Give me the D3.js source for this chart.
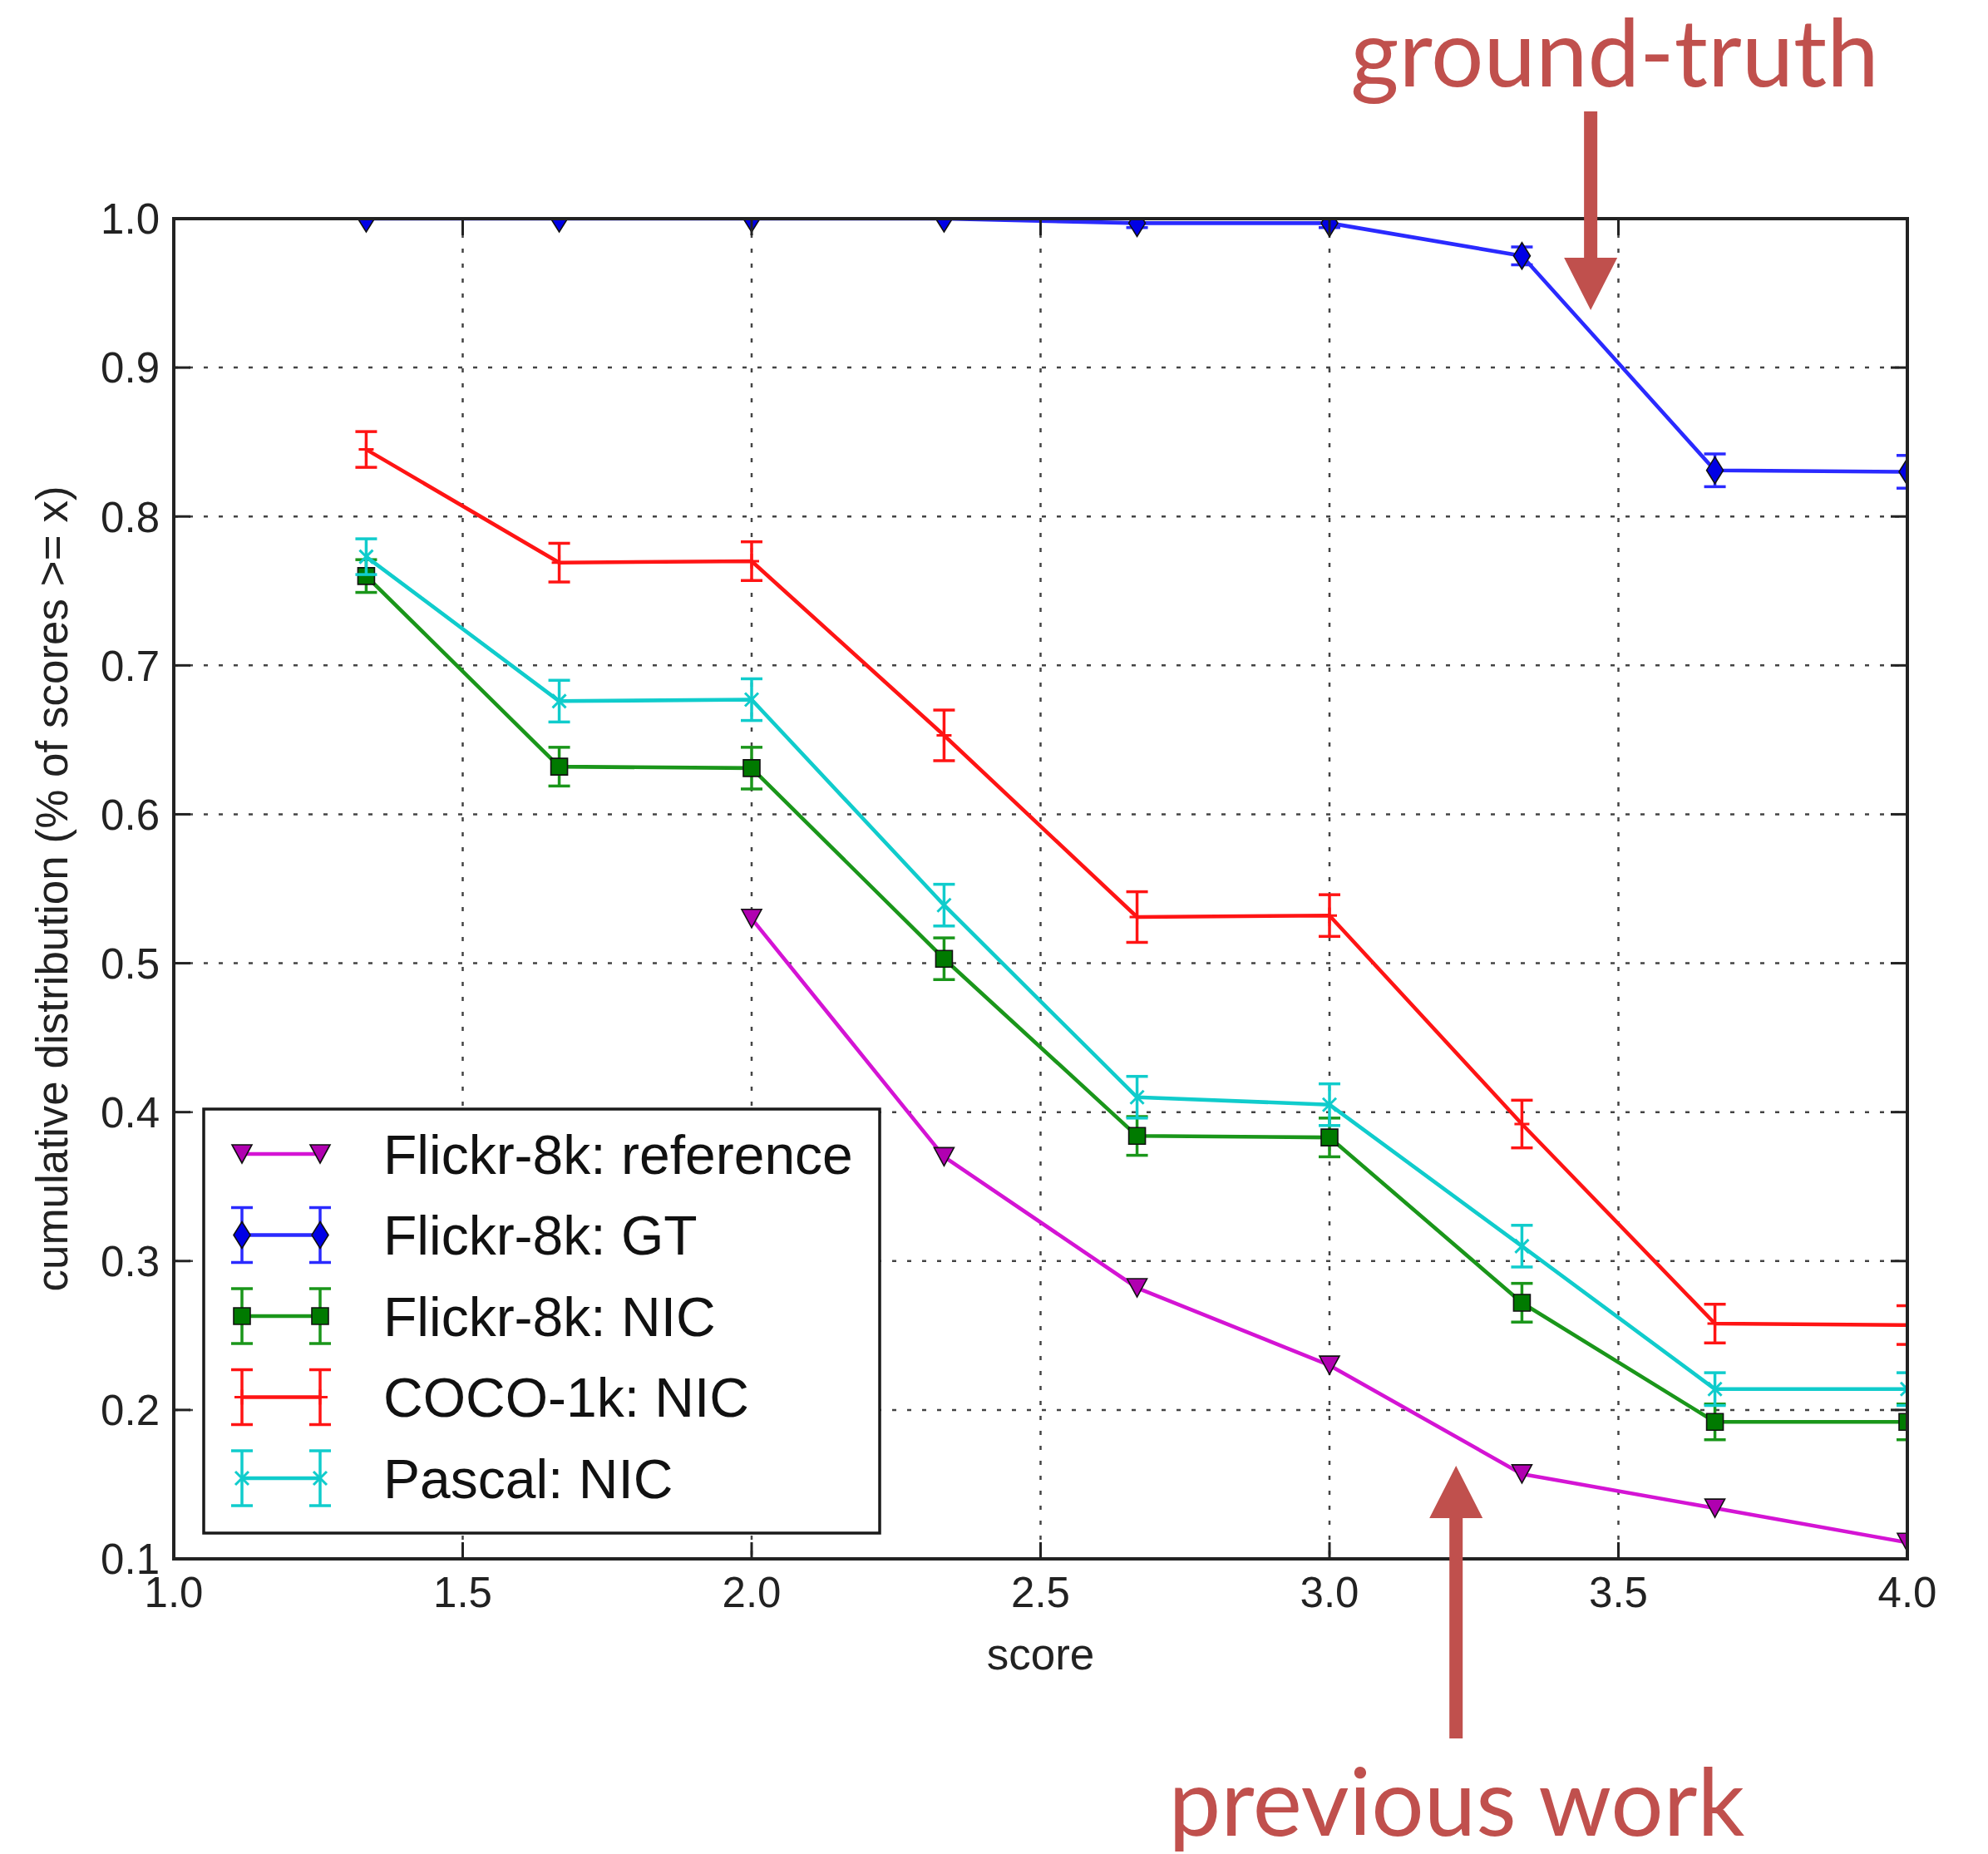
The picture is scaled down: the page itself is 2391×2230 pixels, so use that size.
<!DOCTYPE html>
<html>
<head>
<meta charset="utf-8">
<script src="https://cdn.jsdelivr.net/npm/d3@7"></script>
<style>
  body { margin: 0; background: #fff; }
</style>
</head>
<body>
<div id="chart"></div>
<script>
// x positions (scores) of the measured points
const scores = [1.333, 1.667, 2.0, 2.333, 2.667, 3.0, 3.333, 3.667, 4.0];
const refScores = [2.0, 2.333, 2.667, 3.0, 3.333, 3.667, 4.0];

// series values
const flickrReference = [0.530, 0.370, 0.282, 0.230, 0.157, 0.134, 0.111];
const flickrGT = [1.0, 1.0, 1.0, 1.0, 0.997, 0.997, 0.975, 0.831, 0.830];
const flickrGTErr = [0, 0, 0, 0, 0.003, 0.003, 0.006, 0.011, 0.011];
const flickrNIC = [0.760, 0.632, 0.631, 0.503, 0.384, 0.383, 0.272, 0.192, 0.192];
const flickrNICErr = [0.011, 0.013, 0.014, 0.014, 0.013, 0.013, 0.013, 0.012, 0.012];
const cocoNIC = [0.845, 0.769, 0.770, 0.653, 0.531, 0.532, 0.392, 0.258, 0.257];
const cocoNICErr = [0.012, 0.013, 0.013, 0.017, 0.017, 0.014, 0.016, 0.013, 0.013];
const pascalNIC = [0.773, 0.676, 0.677, 0.539, 0.410, 0.405, 0.310, 0.214, 0.214];
const pascalNICErr = [0.012, 0.014, 0.014, 0.014, 0.014, 0.014, 0.014, 0.011, 0.011];

const seriesNames = ['Flickr-8k: reference', 'Flickr-8k: GT', 'Flickr-8k: NIC', 'COCO-1k: NIC', 'Pascal: NIC'];
const xTicks = [1.0, 1.5, 2.0, 2.5, 3.0, 3.5, 4.0];
const yTicks = [0.1, 0.2, 0.3, 0.4, 0.5, 0.6, 0.7, 0.8, 0.9, 1.0];

const width = 2391;
const height = 2230;
const plot = { left: 209, right: 2294, top: 263, bottom: 1875 };
const chartFont = '"Liberation Sans", Arial, Helvetica, sans-serif';
const noteColor = '#c0504d';

// styling per series (same order as seriesNames)
const styles = [
    { line: '#d414d4', fill: '#b000b0', marker: 'triDown' },
    { line: '#2a2aff', fill: '#0000e6', marker: 'thinDiamond' },
    { line: '#1a961a', fill: '#007a00', marker: 'square' },
    { line: '#ff1414', fill: '#ff0000', marker: 'plus' },
    { line: '#10cccc', fill: '#00c4c4', marker: 'cross' }
];

const series = [
    { xs: refScores, ys: flickrReference, err: null },
    { xs: scores, ys: flickrGT, err: flickrGTErr },
    { xs: scores, ys: flickrNIC, err: flickrNICErr },
    { xs: scores, ys: cocoNIC, err: cocoNICErr },
    { xs: scores, ys: pascalNIC, err: pascalNICErr }
].map((s, i) => Object.assign(s, { name: seriesNames[i] }, styles[i]));

const x = d3.scaleLinear().domain([1.0, 4.0]).range([plot.left, plot.right]);
const y = d3.scaleLinear().domain([0.1, 1.0]).range([plot.bottom, plot.top]);

const svg = d3.select('#chart')
    .append('svg')
    .attr('width', width)
    .attr('height', height)
    .style('font-family', chartFont);

svg.append('rect').attr('width', width).attr('height', height).attr('fill', '#fff');

svg.append('defs').append('clipPath')
    .attr('id', 'plot-clip')
    .append('rect')
    .attr('x', plot.left)
    .attr('y', plot.top)
    .attr('width', plot.right - plot.left)
    .attr('height', plot.bottom - plot.top);

// grid
const grid = svg.append('g').attr('class', 'grid')
    .attr('stroke', '#444')
    .attr('stroke-width', 2.5)
    .attr('stroke-dasharray', '5,13');

grid.selectAll('.vgrid').data(xTicks).enter().append('line')
    .attr('x1', d => x(d)).attr('x2', d => x(d))
    .attr('y1', plot.top).attr('y2', plot.bottom);

grid.selectAll('.hgrid').data(yTicks).enter().append('line')
    .attr('x1', plot.left).attr('x2', plot.right)
    .attr('y1', d => y(d)).attr('y2', d => y(d));

// marker shapes
function markerPath(type) {
    switch (type) {
        case 'triDown': return 'M-12,-11L12,-11L0,11Z';
        case 'thinDiamond': return 'M0,-16L10,0L0,16L-10,0Z';
        case 'square': return 'M-10,-10L10,-10L10,10L-10,10Z';
        case 'plus': return 'M-9,0L9,0M0,-9L0,9';
        case 'cross': return 'M-8,-8L8,8M-8,8L8,-8';
    }
    return '';
}

function drawMarker(g, s, cx, cy) {
    const open = s.marker === 'plus' || s.marker === 'cross';
    g.append('path')
        .attr('d', markerPath(s.marker))
        .attr('transform', `translate(${cx},${cy})`)
        .attr('fill', open ? 'none' : s.fill)
        .attr('stroke', open ? s.line : '#111')
        .attr('stroke-width', open ? 3 : 1.6);
}

function drawErrorBar(g, s, cx, yTop, yBottom) {
    const cap = 13;
    const eb = g.append('g').attr('stroke', s.line).attr('stroke-width', 3.5);
    eb.append('line').attr('x1', cx).attr('x2', cx).attr('y1', yTop).attr('y2', yBottom);
    eb.append('line').attr('x1', cx - cap).attr('x2', cx + cap).attr('y1', yTop).attr('y2', yTop);
    eb.append('line').attr('x1', cx - cap).attr('x2', cx + cap).attr('y1', yBottom).attr('y2', yBottom);
}

// data
const dataG = svg.append('g').attr('clip-path', 'url(#plot-clip)');
const lineGen = d3.line().x(d => x(d[0])).y(d => y(d[1]));

series.forEach(s => {
    const g = dataG.append('g').attr('class', 'series');
    const pts = s.xs.map((v, i) => [v, s.ys[i]]);
    if (s.err) {
        pts.forEach((p, i) => drawErrorBar(g, s, x(p[0]), y(p[1] + s.err[i]), y(p[1] - s.err[i])));
    }
    g.append('path')
        .datum(pts)
        .attr('d', lineGen)
        .attr('fill', 'none')
        .attr('stroke', s.line)
        .attr('stroke-width', 4.6)
        .attr('stroke-linejoin', 'round');
    pts.forEach(p => drawMarker(g, s, x(p[0]), y(p[1])));
});

// frame and ticks
const axisColor = '#222';
svg.append('rect')
    .attr('x', plot.left).attr('y', plot.top)
    .attr('width', plot.right - plot.left).attr('height', plot.bottom - plot.top)
    .attr('fill', 'none').attr('stroke', axisColor).attr('stroke-width', 4);

const tickLen = 20;
const ticks = svg.append('g').attr('stroke', axisColor).attr('stroke-width', 3);
xTicks.forEach(t => {
    ticks.append('line').attr('x1', x(t)).attr('x2', x(t)).attr('y1', plot.bottom).attr('y2', plot.bottom - tickLen);
    ticks.append('line').attr('x1', x(t)).attr('x2', x(t)).attr('y1', plot.top).attr('y2', plot.top + tickLen);
});
yTicks.forEach(t => {
    ticks.append('line').attr('x1', plot.left).attr('x2', plot.left + tickLen).attr('y1', y(t)).attr('y2', y(t));
    ticks.append('line').attr('x1', plot.right).attr('x2', plot.right - tickLen).attr('y1', y(t)).attr('y2', y(t));
});

svg.append('g').selectAll('text').data(xTicks).enter().append('text')
    .attr('x', d => x(d))
    .attr('y', plot.bottom + 58)
    .attr('text-anchor', 'middle')
    .attr('font-size', 51)
    .attr('fill', '#222')
    .text(d => d.toFixed(1));

svg.append('g').selectAll('text').data(yTicks).enter().append('text')
    .attr('x', plot.left - 17)
    .attr('y', d => y(d))
    .attr('dy', '0.36em')
    .attr('text-anchor', 'end')
    .attr('font-size', 51)
    .attr('fill', '#222')
    .text(d => d.toFixed(1));

svg.append('text')
    .attr('x', (plot.left + plot.right) / 2)
    .attr('y', plot.bottom + 133)
    .attr('text-anchor', 'middle')
    .attr('font-size', 53)
    .attr('fill', '#222')
    .text('score');

svg.append('text')
    .attr('transform', `translate(81,${(plot.top + plot.bottom) / 2}) rotate(-90)`)
    .attr('text-anchor', 'middle')
    .attr('font-size', 53)
    .attr('fill', '#222')
    .text('cumulative distribution (% of scores >= x)');

// legend
const legend = { left: 245, top: 1334, width: 813, height: 510, firstRow: 1388, rowGap: 97.5 };
const lg = svg.append('g').attr('class', 'legend');
lg.append('rect')
    .attr('x', legend.left).attr('y', legend.top)
    .attr('width', legend.width).attr('height', legend.height)
    .attr('fill', '#fff').attr('stroke', '#1a1a1a').attr('stroke-width', 3.5);

series.forEach((s, i) => {
    const cy = legend.firstRow + i * legend.rowGap;
    const x1 = 291, x2 = 385;
    const row = lg.append('g');
    if (s.err) {
        drawErrorBar(row, s, x1, cy - 33, cy + 33);
        drawErrorBar(row, s, x2, cy - 33, cy + 33);
    }
    row.append('line')
        .attr('x1', x1).attr('x2', x2).attr('y1', cy).attr('y2', cy)
        .attr('stroke', s.line).attr('stroke-width', 4.6);
    drawMarker(row, s, x1, cy);
    drawMarker(row, s, x2, cy);
    row.append('text')
        .attr('x', 461)
        .attr('y', cy)
        .attr('dy', '0.36em')
        .attr('font-size', 66)
        .attr('fill', '#111')
        .text(s.name);
});

// annotations (arrow tip in data coordinates)
const notes = [
    { text: 'ground-truth', tipX: 3.452, tipY: 0.9386, dir: 'down', shaft: 239, textX: 1942, textY: 104 },
    { text: 'previous work', tipX: 3.219, tipY: 0.1625, dir: 'up', shaft: 328, textX: 1752, textY: 2208 }
];

const notesG = svg.append('g').attr('fill', noteColor);
notes.forEach(n => {
    const tx = x(n.tipX);
    const ty = y(n.tipY);
    const headLen = 63, headHalf = 32, shaftHalf = 8;
    const s = n.dir === 'down' ? -1 : 1;
    notesG.append('path')
        .attr('d', `M${tx},${ty}L${tx - headHalf},${ty + s * headLen}L${tx - shaftHalf},${ty + s * headLen}` +
            `L${tx - shaftHalf},${ty + s * n.shaft}L${tx + shaftHalf},${ty + s * n.shaft}` +
            `L${tx + shaftHalf},${ty + s * headLen}L${tx + headHalf},${ty + s * headLen}Z`);
    notesG.append('text')
        .attr('x', n.textX)
        .attr('y', n.textY)
        .attr('text-anchor', 'middle')
        .attr('font-family', 'Lato, "Open Sans", sans-serif')
        .attr('font-size', 112)
        .text(n.text);
});
</script>
</body>
</html>
